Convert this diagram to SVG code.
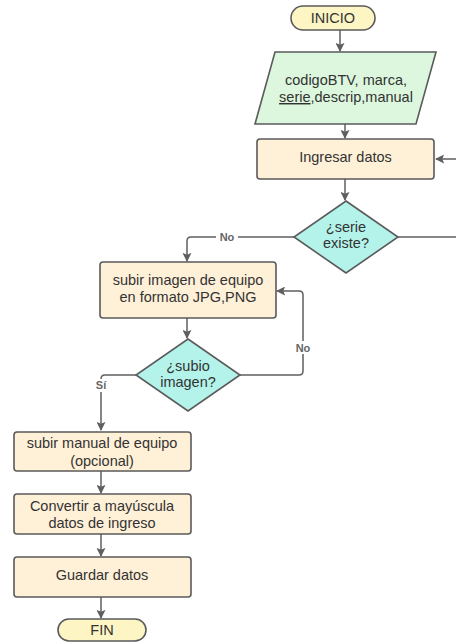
<svg xmlns="http://www.w3.org/2000/svg" width="456" height="644" viewBox="0 0 456 644">
  <defs>
    <marker id="arrow" viewBox="0 0 10 10" refX="9" refY="5" markerWidth="9" markerHeight="9" markerUnits="userSpaceOnUse" orient="auto">
      <path d="M0,0 L10,5 L0,10 L2,5 Z" fill="#5f5f5f"/>
    </marker>
    <style>
      .term { fill: #fdf5c4; stroke: #5a5a5a; stroke-width: 1.6; }
      .io { fill: #dcf7dd; stroke: #5a5a5a; stroke-width: 1.6; }
      .proc { fill: #fff0d8; stroke: #5a5a5a; stroke-width: 1.6; }
      .dec { fill: #b4f3ea; stroke: #5a5a5a; stroke-width: 1.6; }
      .txt { font-family: "Liberation Sans", Arial, sans-serif; font-size: 14.5px; fill: #333; text-anchor: middle; }
      .conn { fill: none; stroke: #5f5f5f; stroke-width: 1.5; marker-end: url(#arrow); }
      .lbl { font-family: "Liberation Sans", Arial, sans-serif; font-size: 11px; font-weight: bold; fill: #666; text-anchor: middle; }
      .lblbg { fill: #ffffff; }
    </style>
  </defs>

  <!-- connectors -->
  <g id="connectors">
    <path class="conn" d="M340,30 V51"/>
    <path class="conn" d="M345,124 V138"/>
    <path class="conn" d="M345,179 V200"/>
    <path class="conn" d="M398,237 H462 V159 H436"/>
    <path class="conn" d="M294,237 H191 Q187,237 187,241 V261"/>
    <path class="conn" d="M187,318 V338"/>
    <path class="conn" d="M240,375 H299 Q303,375 303,371 V295 Q303,291 299,291 H277"/>
    <path class="conn" d="M136,375 H105 Q101,375 101,379 V430"/>
    <path class="conn" d="M101,471 V493"/>
    <path class="conn" d="M101,534 V556"/>
    <path class="conn" d="M101,597 V618"/>
    <rect class="lblbg" x="216" y="230" width="22" height="13"/>
    <text class="lbl" x="227" y="241">No</text>
    <rect class="lblbg" x="292" y="341" width="22" height="13"/>
    <text class="lbl" x="303" y="352">No</text>
    <rect class="lblbg" x="93" y="379" width="16" height="13"/>
    <text class="lbl" x="101" y="389">Sí</text>
  </g>

  <g id="inicio">
    <rect class="term" x="291" y="6" width="84" height="24" rx="12"/>
    <text class="txt" x="333" y="23">INICIO</text>
  </g>

  <g id="entrada">
    <polygon class="io" points="275,52 436,52 416,124 255,124"/>
    <text class="txt" x="346" y="85">codigoBTV, marca,</text>
    <text class="txt" x="346" y="102"><tspan text-decoration="underline">serie</tspan>,descrip,manual</text>
  </g>

  <g id="ingresar">
    <rect class="proc" x="257" y="139" width="177" height="40" rx="3"/>
    <text class="txt" x="345.5" y="162">Ingresar datos</text>
  </g>

  <g id="serie-existe">
    <polygon class="dec" points="346,201 398,237 346,273 294,237"/>
    <text class="txt" x="346" y="232">¿serie</text>
    <text class="txt" x="346" y="248">existe?</text>
  </g>

  <g id="subir-imagen">
    <rect class="proc" x="100" y="262" width="176" height="56" rx="3"/>
    <text class="txt" x="188" y="285">subir imagen de equipo</text>
    <text class="txt" x="188" y="302">en formato JPG,PNG</text>
  </g>

  <g id="subio-imagen">
    <polygon class="dec" points="188,339 240,375 188,411 136,375"/>
    <text class="txt" x="188" y="371">¿subio</text>
    <text class="txt" x="188" y="387">imagen?</text>
  </g>

  <g id="subir-manual">
    <rect class="proc" x="14" y="432" width="177" height="39" rx="3"/>
    <text class="txt" x="102" y="448">subir manual de equipo</text>
    <text class="txt" x="102" y="466">(opcional)</text>
  </g>

  <g id="convertir">
    <rect class="proc" x="14" y="494" width="177" height="40" rx="3"/>
    <text class="txt" x="102" y="511">Convertir a mayúscula</text>
    <text class="txt" x="102" y="528">datos de ingreso</text>
  </g>

  <g id="guardar">
    <rect class="proc" x="14" y="557" width="177" height="40" rx="3"/>
    <text class="txt" x="102" y="580">Guardar datos</text>
  </g>

  <g id="fin">
    <rect class="term" x="58" y="619" width="88" height="22" rx="11"/>
    <text class="txt" x="102" y="635">FIN</text>
  </g>
</svg>
